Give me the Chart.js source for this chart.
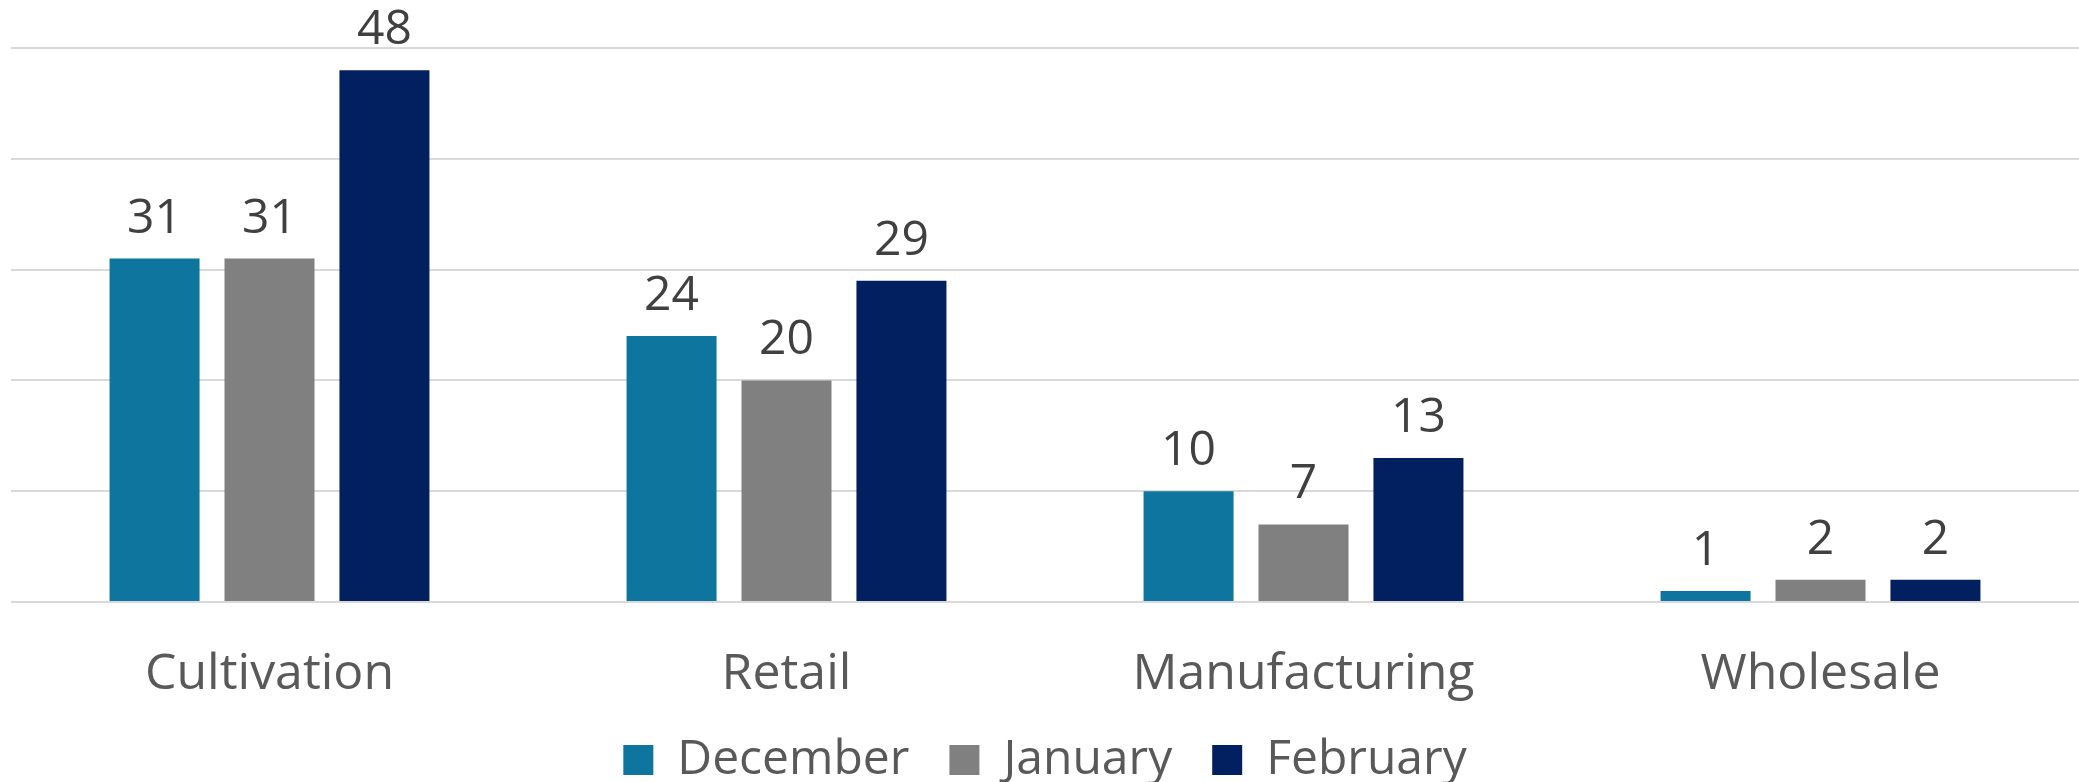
<!DOCTYPE html>
<html>
<head>
<meta charset="utf-8">
<script src="https://cdn.jsdelivr.net/npm/chart.js@4"></script>
<style>
  html, body { margin: 0; padding: 0; background: #ffffff; }
  #contenedor { width: 2079px; height: 782px; position: relative; }
</style>
</head>
<body>
<div id="contenedor"><canvas id="graficaSectores"></canvas></div>
<script>
const categorias = ["Cultivation", "Retail", "Manufacturing", "Wholesale"];
const meses = ["December", "January", "February"];
const valoresDiciembre = [31, 24, 10, 1];
const valoresEnero = [31, 20, 7, 2];
const valoresFebrero = [48, 29, 13, 2];
const colores = ["#0e769e", "#808080", "#02205f"];

const fuente = "'Open Sans', 'Liberation Sans', sans-serif";

// etiquetas de valor encima de cada barra
const etiquetasValor = {
    id: "etiquetasValor",
    afterDatasetsDraw(chart) {
        const ctx = chart.ctx;
        ctx.save();
        ctx.font = "48px " + fuente;
        ctx.fillStyle = "#404040";
        ctx.textAlign = "center";
        ctx.textBaseline = "alphabetic";
        chart.data.datasets.forEach((ds, i) => {
            chart.getDatasetMeta(i).data.forEach((barra, j) => {
                ctx.fillText(ds.data[j], barra.x, barra.y - 26);
            });
        });
        ctx.restore();
    }
};

// la leyenda ocupa menos alto que lo que calcula Chart.js
const alturaLeyenda = {
    id: "alturaLeyenda",
    beforeLayout(chart) {
        const lg = chart.legend;
        if (lg && !lg._ajustada) {
            const fitOriginal = lg.fit;
            lg.fit = function () {
                fitOriginal.call(this);
                this.height = 86;
            };
            lg._ajustada = true;
        }
    },
    afterLayout(chart) {
        // que no se recorte la "g" de Manufacturing
        chart.scales.x.bottom += 30;
    }
};

function crearGrafica() {
    const ctx = document.getElementById("graficaSectores");
    const series = [valoresDiciembre, valoresEnero, valoresFebrero];

    new Chart(ctx, {
        type: "bar",
        data: {
            labels: categorias,
            datasets: meses.map((mes, i) => ({
                label: mes,
                data: series[i],
                backgroundColor: colores[i],
                borderWidth: 0,
                categoryPercentage: 0.667,
                barPercentage: 0.783
            }))
        },
        options: {
            responsive: true,
            maintainAspectRatio: false,
            animation: false,
            layout: { padding: { top: 48, left: 11, right: 0, bottom: 0 } },
            plugins: {
                tooltip: { enabled: false },
                legend: {
                    position: "bottom",
                    labels: {
                        boxWidth: 30,
                        boxHeight: 30,
                        padding: 40,
                        color: "#595959",
                        font: { family: fuente, size: 48 }
                    }
                }
            },
            scales: {
                x: {
                    grid: { display: false, drawTicks: false },
                    border: { display: false },
                    ticks: {
                        color: "#595959",
                        padding: 43,
                        font: { family: fuente, size: 50 }
                    },
                    afterFit(scale) {
                        scale.height = 94;
                    }
                },
                y: {
                    min: 0,
                    max: 50,
                    ticks: { display: false, stepSize: 10 },
                    border: { display: false },
                    grid: { color: "#d9d9d9", lineWidth: 2, drawTicks: false }
                }
            }
        },
        plugins: [etiquetasValor, alturaLeyenda]
    });
}

document.addEventListener("DOMContentLoaded", () => {
    crearGrafica();
});
</script>
</body>
</html>
